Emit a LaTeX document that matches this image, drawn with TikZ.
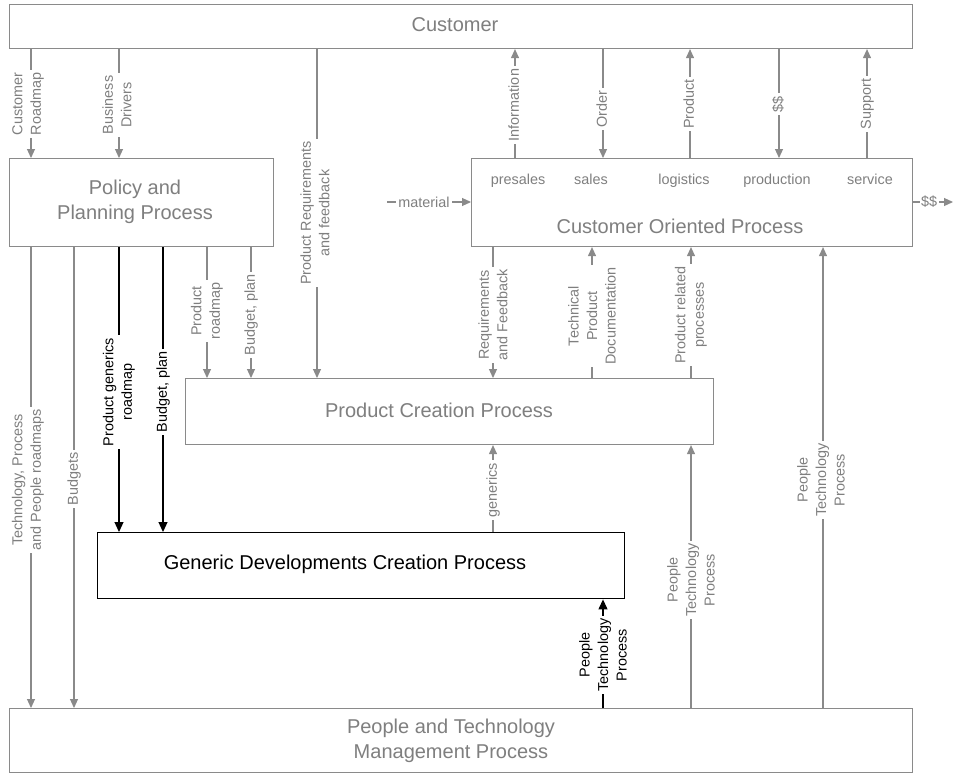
\documentclass[tikz,border=0pt]{standalone}
\usepackage{fontspec}
\setmainfont{Liberation Sans}
\usetikzlibrary{arrows.meta}
\definecolor{ink}{HTML}{7F7F7F}
\definecolor{wire}{HTML}{8A8A8A}

\begin{document}
\begin{tikzpicture}[x=1pt,y=-1pt,
  procbox/.style={draw=wire,line width=1.1pt,inner sep=0pt,anchor=north west},
  title/.style={text=ink,align=center,inner sep=0pt,font=\fontsize{20}{25.5}\selectfont},
  sub/.style={text=ink,inner sep=0pt,text height=10.5pt,text depth=3pt,font=\fontsize{14.4}{18.5}\selectfont},
  gline/.style={draw=wire,line width=1.1pt},
  garrow/.style={gline,-{Triangle[length=9pt,width=8pt]}},
  barrow/.style={draw=black,line width=1.1pt,-{Triangle[length=10pt,width=9pt]}},
  flow/.style={fill=white,inner sep=2.5pt,rotate=90,text=ink,align=center,font=\fontsize{14.4}{18.5}\selectfont},
  oneflow/.style={flow,text height=10.5pt,text depth=3pt},
  bflow/.style={flow,text=black},
  hflow/.style={fill=white,inner sep=2.5pt,text=ink,font=\fontsize{14.4}{18.5}\selectfont}
]
\useasboundingbox[fill=white] (0,0) rectangle (953,774);

% process boxes
\node[procbox,minimum width=903pt,minimum height=44pt] (cust) at (9,4) {};
\node[procbox,minimum width=264pt,minimum height=88pt] (pol) at (9,158) {};
\node[procbox,minimum width=441pt,minimum height=88pt] (cop) at (471,158) {};
\node[procbox,minimum width=528pt,minimum height=66pt] (pcp) at (185,378) {};
\node[procbox,draw=black,line width=1.4pt,minimum width=527pt,minimum height=66pt] (gdc) at (97,532) {};
\node[procbox,minimum width=903pt,minimum height=64pt] (ptm) at (9,708) {};

% box titles
\node[title] (custT) at (455,25) {Customer};
\node[title] (polT) at (135,202) {Policy and\\Planning Process};
\node[title] (copT) at (680,226) {Customer Oriented Process};
\node[title] (pcpT) at (439,410) {Product Creation Process};
\node[title,text=black] (gdcT) at (345,564) {Generic Developments Creation Process};
\node[title] (ptmT) at (451,741) {People and Technology\\Management Process};

% customer oriented sub-processes
\node[sub] (presales) at (518,181) {presales};
\node[sub] (sales) at (591,181) {sales};
\node[sub] (logistics) at (684,181) {logistics};
\node[sub] (production) at (777,181) {production};
\node[sub] (service) at (870,181) {service};

% customer <-> policy / customer oriented
\draw[garrow] (31,0 |- cust.south) -- (31,0 |- pol.north);
\node[flow] (fCR) at (28,104) {Customer\\Roadmap};
\draw[garrow] (119,0 |- cust.south) -- (119,0 |- pol.north);
\node[flow] (fBD) at (117,105) {Business\\Drivers};
\draw[garrow] (317,0 |- cust.south) -- (317,0 |- pcp.north);
\node[flow] (fPR) at (315,213) {Product Requirements\\and feedback};

\draw[garrow] (515,0 |- cop.north) -- (515,0 |- cust.south);
\node[oneflow] (fInfo) at (515,105) {Information};
\draw[garrow] (603,0 |- cust.south) -- (603,0 |- cop.north);
\node[oneflow] (fOrder) at (603,109) {Order};
\draw[garrow] (690,0 |- cop.north) -- (690,0 |- cust.south);
\node[oneflow] (fProd) at (690,104) {Product};
\draw[garrow] (779,0 |- cust.south) -- (779,0 |- cop.north);
\node[oneflow] (fCash) at (779,104) {\$\$};
\draw[garrow] (867,0 |- cop.north) -- (867,0 |- cust.south);
\node[oneflow] (fSup) at (867,104) {Support};

% material in, money out
\coordinate (matIn) at (387,202);
\draw[garrow] (matIn) -- (matIn -| cop.west);
\node[hflow] (fMat) at (424,202) {material};
\coordinate (cashOut) at (953,202);
\draw[garrow] (cashOut -| cop.east) -- (cashOut);
\node[hflow,inner sep=1.5pt] (fCashOut) at (929,202) {\$\$};

% policy outputs
\draw[garrow] (31,0 |- pol.south) -- (31,0 |- ptm.north);
\node[flow] (fTPP) at (28,480) {Technology, Process\\and People roadmaps};
\draw[garrow] (74,0 |- pol.south) -- (74,0 |- ptm.north);
\node[oneflow] (fBud) at (74,479) {Budgets};
\draw[barrow] (119,0 |- pol.south) -- (119,0 |- gdc.north);
\node[bflow] (fPGR) at (119,392) {Product generics\\roadmap};
\draw[barrow] (163,0 |- pol.south) -- (163,0 |- gdc.north);
\node[bflow,text height=10.5pt,text depth=3pt] (fBPb) at (163,392) {Budget, plan};
\draw[garrow] (207,0 |- pol.south) -- (207,0 |- pcp.north);
\node[flow] (fPRm) at (207,311) {Product\\roadmap};
\draw[garrow] (251,0 |- pol.south) -- (251,0 |- pcp.north);
\node[oneflow] (fBPg) at (251,315) {Budget, plan};

% customer oriented <-> product creation
\draw[garrow] (493,0 |- cop.south) -- (493,0 |- pcp.north);
\node[flow] (fRF) at (493,315) {Requirements\\and Feedback};
\draw[garrow] (592,0 |- pcp.north) -- (592,0 |- cop.south);
\node[flow] (fTPD) at (592,316) {Technical\\Product\\Documentation};
\draw[garrow] (691,0 |- pcp.north) -- (691,0 |- cop.south);
\node[flow] (fPRP) at (691,315) {Product related\\processes};

% generics and people/technology flows
\draw[garrow] (493,0 |- gdc.north) -- (493,0 |- pcp.south);
\node[oneflow] (fGen) at (493,490) {generics};
\draw[garrow] (823,0 |- ptm.north) -- (823,0 |- cop.south);
\node[flow] (fPTP1) at (821,480) {People\\Technology\\Process};
\draw[garrow] (691,0 |- ptm.north) -- (691,0 |- pcp.south);
\node[flow] (fPTP2) at (691,580) {People\\Technology\\Process};
\draw[barrow] (603,0 |- ptm.north) -- (603,0 |- gdc.south);
\node[bflow] (fPTP3) at (603,655) {People\\Technology\\Process};
\end{tikzpicture}
\end{document}
